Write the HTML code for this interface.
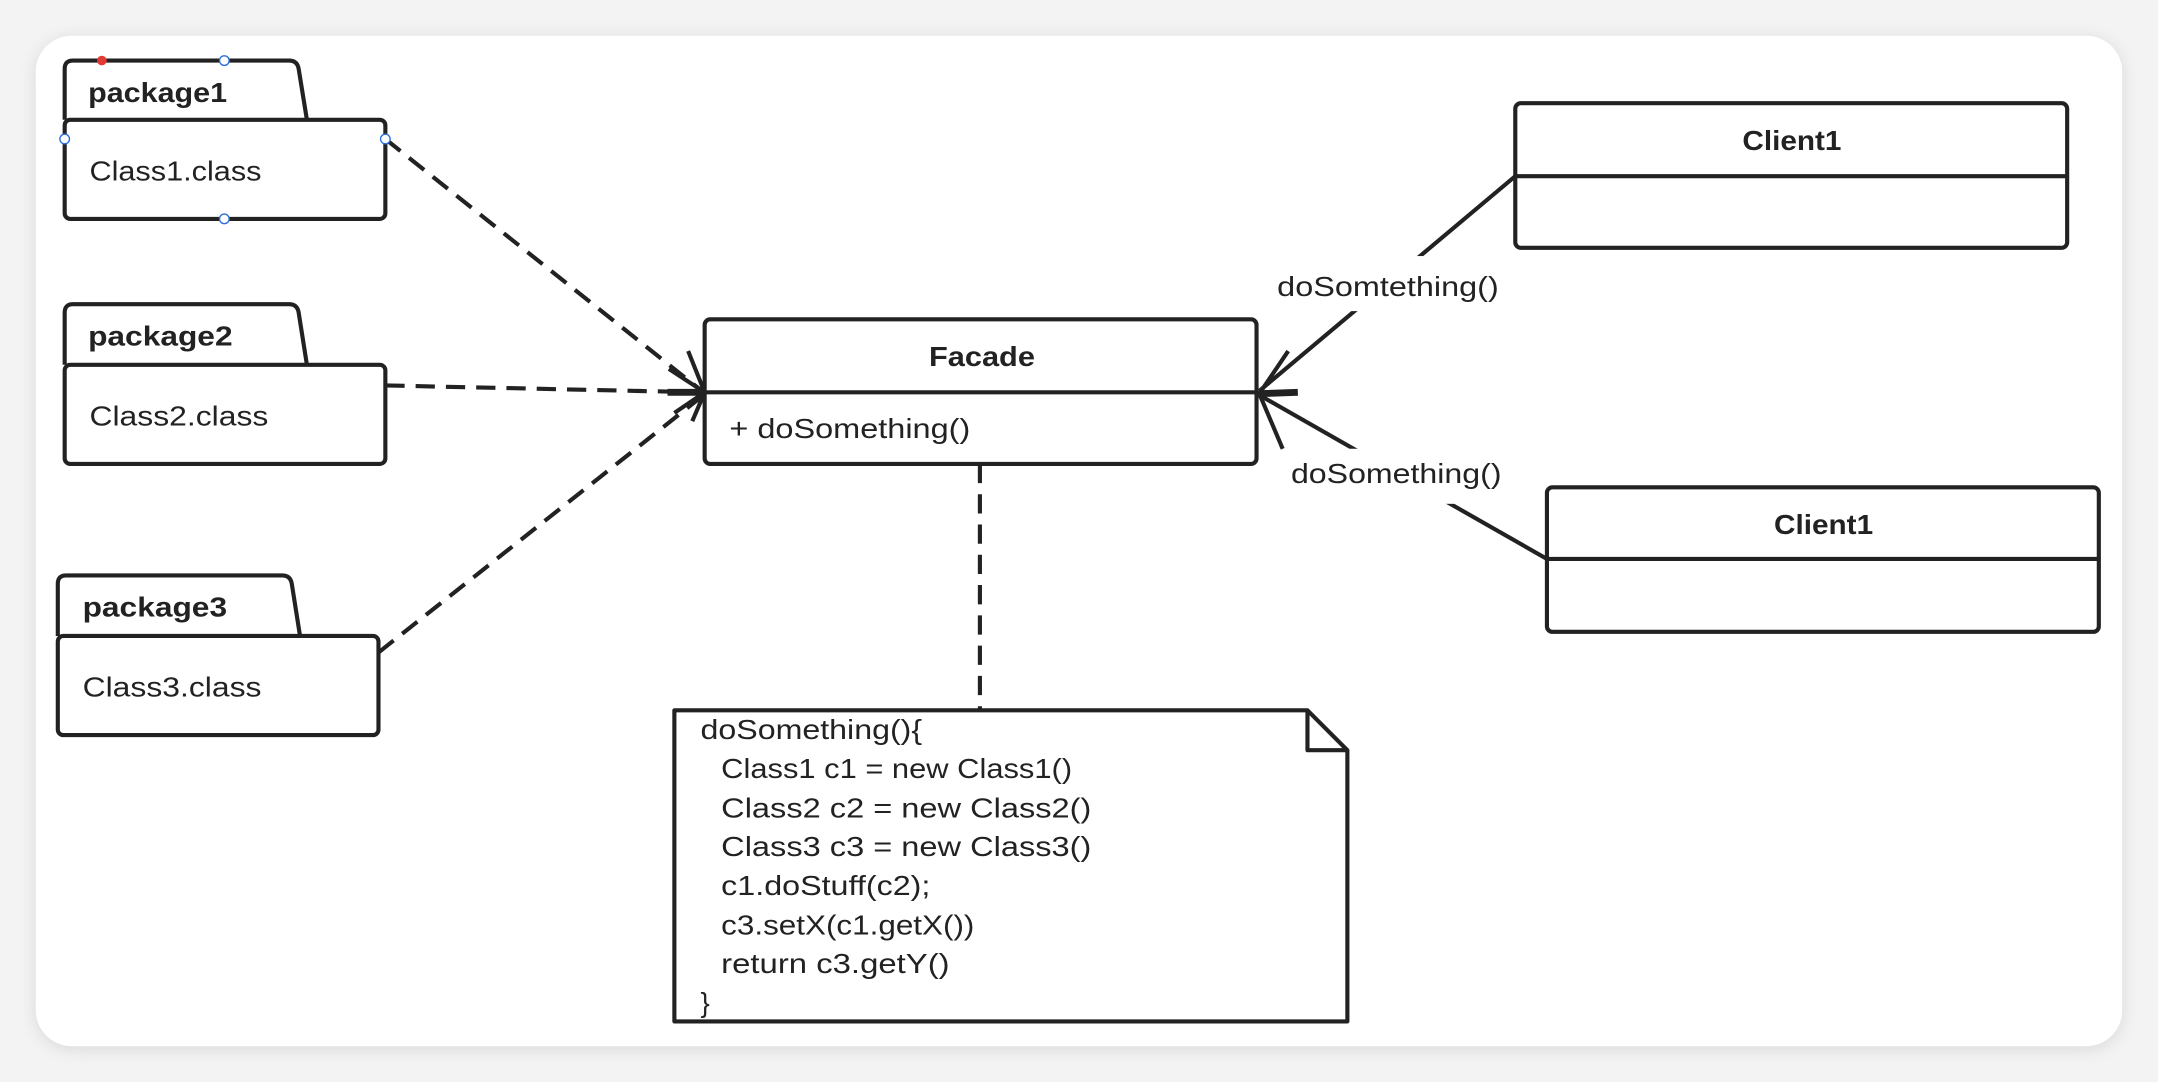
<!DOCTYPE html>
<html><head><meta charset="utf-8"><style>
html,body{margin:0;padding:0;background:#f2f2f2;width:2158px;height:1082px;overflow:hidden}
svg{display:block}
text{font-family:"Liberation Sans",sans-serif;fill:#222}
</style></head><body>
<svg width="2158" height="1082" viewBox="0 0 1568 786" preserveAspectRatio="none">
<defs>
<filter id="sh" x="-5%" y="-5%" width="110%" height="110%"><feGaussianBlur stdDeviation="6"/></filter>
</defs>
<rect x="0" y="0" width="1568" height="786" fill="#f3f3f3"/>
<rect x="26" y="28" width="1516" height="734" rx="26" fill="#d8d8d8" filter="url(#sh)"/>
<rect x="26" y="26" width="1516" height="734" rx="26" fill="#fff"/>
<g fill="none" stroke="#222" stroke-width="3" stroke-linejoin="round">
<path d="M47,87 V50 Q47,44 53,44 H210 Q216,44 217,50 L223,87"/>
<rect x="47" y="87" width="233" height="72" rx="4"/>
<path d="M47,265 V227 Q47,221 53,221 H210 Q216,221 217,227 L223,265"/>
<rect x="47" y="265" width="233" height="72" rx="4"/>
<path d="M42,462 V424 Q42,418 48,418 H205 Q211,418 212,424 L218,462"/>
<rect x="42" y="462" width="233" height="72" rx="4"/>
<rect x="512" y="232" width="401" height="105" rx="4"/>
<line x1="512" y1="285" x2="913" y2="285"/>
<rect x="1101" y="75" width="401" height="105" rx="4"/>
<line x1="1101" y1="128" x2="1502" y2="128"/>
<rect x="1124" y="354" width="401" height="105" rx="4"/>
<line x1="1124" y1="406" x2="1525" y2="406"/>
<path d="M490,516 H950 L979,545 V742 H490 Z"/>
<path d="M950,516 V545 H979"/>
<g stroke-dasharray="14,8">
<line x1="280" y1="101" x2="510" y2="284"/>
<line x1="280" y1="280" x2="510" y2="285"/>
<line x1="275" y1="474" x2="510" y2="288"/>
<line x1="712" y1="337" x2="712" y2="516"/>
</g>
<path d="M500,255 L512,285 L503,306"/>
<path d="M486,268 L512,285 L490,300"/>
<line x1="485" y1="285" x2="512" y2="285" stroke-width="5"/>
<line x1="1101" y1="128" x2="915" y2="284"/>
<line x1="1124" y1="406" x2="915" y2="287"/>
<path d="M936,255 L915,286 L932,326"/>
<line x1="915" y1="286" x2="943" y2="285" stroke-width="5"/>
</g>
<rect x="924" y="186" width="170" height="40" fill="#fff"/>
<rect x="934" y="326" width="162" height="40" fill="#fff"/>
<g font-size="20" lengthAdjust="spacingAndGlyphs">
<text x="928" y="215" textLength="161" lengthAdjust="spacingAndGlyphs">doSomtething()</text>
<text x="938" y="351" textLength="153" lengthAdjust="spacingAndGlyphs">doSomething()</text>
<text x="64" y="74" font-weight="bold" textLength="101" lengthAdjust="spacingAndGlyphs">package1</text>
<text x="65" y="131" textLength="125" lengthAdjust="spacingAndGlyphs">Class1.class</text>
<text x="64" y="251" font-weight="bold" textLength="105" lengthAdjust="spacingAndGlyphs">package2</text>
<text x="65" y="309" textLength="130" lengthAdjust="spacingAndGlyphs">Class2.class</text>
<text x="60" y="448" font-weight="bold" textLength="105" lengthAdjust="spacingAndGlyphs">package3</text>
<text x="60" y="506" textLength="130" lengthAdjust="spacingAndGlyphs">Class3.class</text>
<text x="675" y="266" font-weight="bold" textLength="77" lengthAdjust="spacingAndGlyphs">Facade</text>
<text x="530" y="318" textLength="175" lengthAdjust="spacingAndGlyphs">+ doSomething()</text>
<text x="1266" y="109" font-weight="bold" textLength="72" lengthAdjust="spacingAndGlyphs">Client1</text>
<text x="1289" y="388" font-weight="bold" textLength="72" lengthAdjust="spacingAndGlyphs">Client1</text>
<text x="509" y="537" textLength="161" lengthAdjust="spacingAndGlyphs">doSomething(){</text>
<text x="524" y="565" textLength="255" lengthAdjust="spacingAndGlyphs">Class1 c1 = new Class1()</text>
<text x="524" y="594" textLength="269" lengthAdjust="spacingAndGlyphs">Class2 c2 = new Class2()</text>
<text x="524" y="622" textLength="269" lengthAdjust="spacingAndGlyphs">Class3 c3 = new Class3()</text>
<text x="524" y="650" textLength="152" lengthAdjust="spacingAndGlyphs">c1.doStuff(c2);</text>
<text x="524" y="679" textLength="184" lengthAdjust="spacingAndGlyphs">c3.setX(c1.getX())</text>
<text x="524" y="707" textLength="166" lengthAdjust="spacingAndGlyphs">return c3.getY()</text>
<text x="509" y="735">}</text>
</g>
<g fill="#fff" stroke="#2a6fdb" stroke-width="1">
<circle cx="163" cy="44" r="3.5"/><circle cx="47" cy="101" r="3.5"/><circle cx="280" cy="101" r="3.5"/><circle cx="163" cy="159" r="3.5"/>
</g>
<circle cx="74" cy="44" r="3.5" fill="#e53935"/>
</svg>
</body></html>
